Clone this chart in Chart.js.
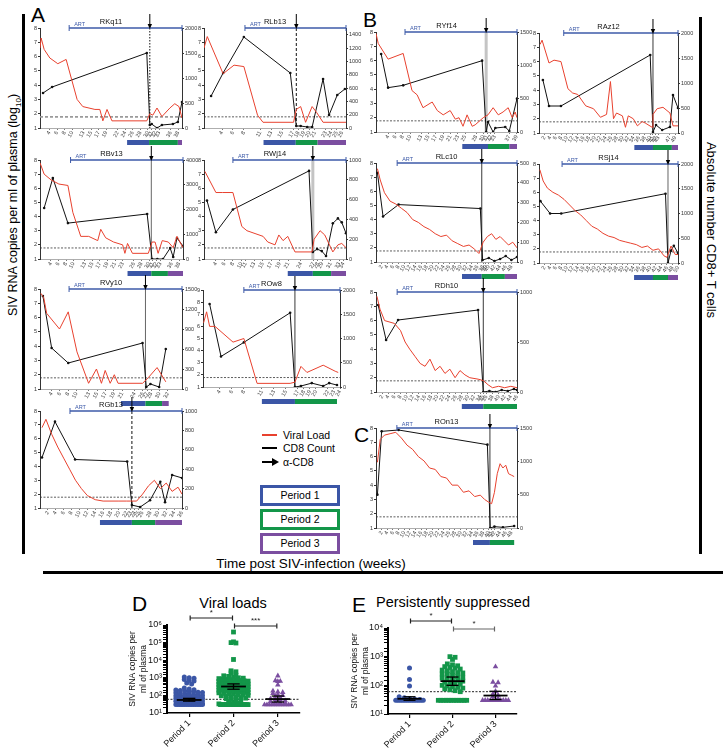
<!DOCTYPE html>
<html>
<head>
<meta charset="utf-8">
<script src="https://cdn.jsdelivr.net/npm/chart.js@4.4.1/dist/chart.umd.min.js"></script>
<style>
  body { margin: 0; background: #fff; }
  #fig { position: relative; width: 723px; height: 749px; overflow: hidden; background: #fff;
         font-family: "Liberation Sans", Arial, sans-serif; color: #000; }
  #fig canvas { position: absolute; }
  .t { position: absolute; white-space: nowrap; line-height: 1; }
  .bar { position: absolute; background: #000; }
  .pbox { position: absolute; left: 260px; width: 74px; height: 15px; text-align: center;
          font-size: 10.5px; line-height: 15px; }
</style>
</head>
<body>
<div id="fig">
  <div class="t" style="left:31px;top:4px;font-size:21px">A</div>
  <div class="t" style="left:363px;top:9px;font-size:21px">B</div>
  <div class="t" style="left:354px;top:424px;font-size:21px">C</div>
  <div class="t" style="left:132px;top:593px;font-size:21px">D</div>
  <div class="t" style="left:352px;top:594px;font-size:21px">E</div>

  <div class="bar" style="left:22px;top:14px;width:3px;height:540px"></div>
  <div class="bar" style="left:699px;top:17px;width:3px;height:537px"></div>
  <div class="bar" style="left:43px;top:571px;width:680px;height:3px"></div>

  <div class="t" style="left:15px;top:205px;font-size:12.5px;transform:translate(-50%,-50%) rotate(-90deg)">SIV RNA copies per ml of plasma (log<sub style="font-size:8px">10</sub>)</div>
  <div class="t" style="left:711px;top:230px;font-size:13px;transform:translate(-50%,-50%) rotate(90deg)">Absolute number CD8+ T cells</div>
  <div class="t" style="left:311px;top:557px;font-size:13.5px;transform:translateX(-50%)">Time post SIV-infection (weeks)</div>

  <div class="t" style="left:233px;top:596px;font-size:14.5px;transform:translateX(-50%)">Viral loads</div>
  <div class="t" style="left:453px;top:595px;font-size:14.5px;transform:translateX(-50%)">Persistently suppressed</div>

  <!-- legend -->
  <div class="bar" style="left:262px;top:434px;width:15px;height:2px;background:#e8412e"></div>
  <div class="t" style="left:283px;top:430px;font-size:10.5px">Viral Load</div>
  <div class="bar" style="left:262px;top:447px;width:15px;height:2px"></div>
  <div class="t" style="left:283px;top:443px;font-size:10.5px">CD8 Count</div>
  <svg style="position:absolute;left:260px;top:456px" width="20" height="12">
    <line x1="2" y1="6" x2="13" y2="6" stroke="#000" stroke-width="2"/>
    <polygon points="12,2 19,6 12,10" fill="#000"/>
  </svg>
  <div class="t" style="left:283px;top:457px;font-size:10.5px">α-CD8</div>
  <div class="pbox" style="top:485px;border:3px solid #3b56a6">Period 1</div>
  <div class="pbox" style="top:509px;border:3px solid #139649">Period 2</div>
  <div class="pbox" style="top:533px;border:3px solid #7b4ea0">Period 3</div>
</div>

<script>
// ---------- data: viral load (log10), CD8 counts, weeks ----------
const LOD = 1.78;

const RKq11_vlWeek = [1.5,1.8,2.6,4.1,6.2,8.4,11.3,12.8,16,17.3,18.1,19.2,20.5,29.7,30.5,31.3,32.4,33.7,35.8,37.1,38.2,39];
const RKq11_vl = [6.6,7.3,6.5,5.9,5.5,5.8,3.0,2.5,2.3,2.3,1.5,2.3,1.5,1.5,2.0,1.9,2.4,1.8,2.4,2.7,2.5,1.7];
const RKq11_cd8Week = [2.3,4.7,29.7,30.5,31,32.4,33.7,36.6,37.9,39];
const RKq11_cd8 = [700,820,1500,60,80,0,60,80,120,520];
const RKq11_ticks = [4,6,8,10,13,15,17,19,22,24,26,28,30,31,32,33,36,38];
const RKq11_periods = [24.5,30.3,37.9,39];

const RLb13_vlWeek = [0.7,1.3,4.2,6.2,8,10.5,11.5,17.1,17.6,18.4,19.3,20.5,21.3,22.5,26.7];
const RLb13_vl = [6.6,7.4,4.8,5.4,5.3,1.9,1.4,1.4,2.3,2.5,1.4,2.5,2.1,1.4,1.4];
const RLb13_cd8Week = [2,4.2,8,16.5,17.6,18.4,19.6,20.5,22.5,23.6,25.1,26.5];
const RLb13_cd8 = [480,825,1365,825,30,30,15,15,735,195,495,585];
const RLb13_ticks = [4,6,8,11,13,15,17,18,19,20,21,23,24,25,26];
const RLb13_periods = [11.6,17.5,21.5,26.7];

const RYf14_vlWeek = [0.7,1.3,4,8.1,10.5,11.9,13.5,16,17.4,19,20.9,22.3,23.3,24.4,25.5,26.9,27.7,29.9,31.2,32.6,34,35.3,36.7,37.8,38.6,39.1];
const RYf14_vl = [7.9,7.2,6.1,6.5,3.9,3.6,2.7,3.1,2.5,2.2,2.5,1.9,2.0,1.4,2.2,1.4,1.5,2.0,2.2,2.7,2.2,2.4,2.7,2.0,2.4,2.0];
const RYf14_cd8Week = [2.1,4,8.1,29.6,30.7,31.2,32.6,33.2,35.9,37,39.1];
const RYf14_cd8 = [1170,665,700,1070,0,150,0,60,75,15,500];
const RYf14_ticks = [4,6,8,10,13,15,17,19,21,23,25,28,30,31,32,33,37,39];
const RYf14_periods = [24.2,31.2,37,39.1];

const RAz12_vlWeek = [0.4,1.1,3.6,5.4,7.9,10.4,12.1,13.9,16.8,19.6,22.1,24.3,25.7,26.8,27.9,30,31.1,32.1,33.9,35.4,37.1,38.2,40.7,41,42.5,44.6,47.1,48.2,50];
const RAz12_vl = [7.2,7.5,5.9,6.1,6.0,4.1,3.8,3.7,2.9,2.7,2.1,2.3,4.6,2.0,2.4,2.2,1.4,2.2,2.0,1.5,1.8,1.7,1.4,2.3,2.7,2.8,2.4,1.5,1.5];
const RAz12_cd8Week = [1.4,3.6,7.9,40,41,42.1,44.3,47.1,48.2,50];
const RAz12_cd8 = [1060,540,540,1560,20,160,60,120,760,500];
const RAz12_ticks = [2,4,6,8,10,12,14,16,18,20,22,24,26,28,30,32,34,36,38,40,41,42,43,47,49];
const RAz12_periods = [34.3,41,47.8,50];

const RBv13_vlWeek = [1.1,2.2,4,6.1,8.5,9.8,11.9,14,16.4,17.2,18.5,20.6,23,23.6,24.3,25.6,29.8,30.8,31.6,32.4,33.5,35.1,36.4,37.4,38.2,39];
const RBv13_vl = [7.8,7.0,6.6,6.3,6.2,4.3,2.6,2.6,2.3,3.1,2.5,2.2,2.0,1.4,2.1,1.4,1.4,2.2,2.2,1.4,2.3,2.2,1.8,2.6,2.2,1.8];
const RBv13_cd8Week = [2.2,4.5,8.5,29.5,30.8,32.2,33.7,35.6,36.4,37.4,39];
const RBv13_cd8 = [2060,3270,1450,1820,0,0,0,440,80,850,520];
const RBv13_ticks = [4,6,8,10,13,15,17,19,21,23,26,28,30,31,32,33,36,38];
const RBv13_periods = [24.3,30.6,35,39];

const RWj14_vlWeek = [1.4,4,5.6,8,10.1,11.3,13.2,15.1,16.2,17.9,18.8,19.8,20.9,22.6,26.6,27.1,28.5,29.6,31.5,32.7,33.6,34.6];
const RWj14_vl = [7.2,5.7,5.7,5.7,3.3,3.0,2.8,2.6,2.2,2.0,2.7,2.3,2.6,1.5,1.5,2.4,3.0,2.7,1.5,2.0,2.1,1.8];
const RWj14_cd8Week = [1.9,4,8,25.9,26.8,27.8,28.9,29.9,31.5,32.7,33.6,34.6];
const RWj14_cd8 = [590,270,500,890,70,100,80,30,360,410,370,260];
const RWj14_ticks = [4,6,8,10,11,13,15,17,19,21,24,27,28,29,31,33,34];
const RWj14_periods = [20.9,26.8,31.1,34.6];

const RLc10_vlWeek = [0.5,1.5,3,5,7,9,11,13,15,17,19,21,23,25,27,29,31,33,35,36.5,38,39.5,41,42.5,44,45.5,47,48.5,50];
const RLc10_vl = [7.6,6.8,5.9,5.3,5.1,4.8,4.5,4.0,3.8,3.5,3.3,3.0,2.8,2.9,2.5,2.3,2.1,2.2,1.9,1.6,2.4,2.8,3.0,2.6,2.8,2.5,2.2,2.4,2.0];
const RLc10_cd8Week = [0.5,2.5,8,37,37.8,40,42,44,46,48,50];
const RLc10_cd8 = [450,230,290,270,10,20,5,15,30,10,25];
const RLc10_ticks = [2,4,6,8,10,12,14,16,18,20,22,24,26,28,30,32,34,36,38,39,40,42,44,46,48];
const RLc10_periods = [30.5,37.5,45.7,50];

const RSj14_vlWeek = [0.3,1.5,3,5,7,9,11,13,15,17,19,21,23,25,27,29,31,33,35,37,39,41,43,45,46,47.5,49,50];
const RSj14_vl = [7.6,6.8,6.3,6.0,5.8,5.5,5.1,4.7,4.4,4.0,3.6,3.4,3.1,2.9,2.8,2.6,2.5,2.4,2.3,2.1,2.2,1.9,2.0,1.5,1.4,2.2,1.6,1.6];
const RSj14_cd8Week = [0.5,4,8,45.5,46.4,47.5,48.5,50];
const RSj14_cd8 = [1250,1000,1000,1400,0,250,350,200];
const RSj14_ticks = [2,4,6,8,10,12,14,16,18,20,22,24,26,28,30,32,34,36,38,40,42,44,46,48,50];
const RSj14_periods = [34.2,41,46.4,50];

const RVy10_vlWeek = [1.4,2.1,2.8,5.9,8,10.1,12.9,14.8,16,16.9,18.1,19.1,20,25.9,27.3,29.4,31.5];
const RVy10_vl = [7.7,7.4,6.3,5.2,6.4,3.6,1.4,2.4,1.4,2.3,1.4,2.0,1.4,1.4,1.8,2.5,1.5];
const RVy10_cd8Week = [1.9,4,8,25.9,26.8,27.8,29.9,31.5];
const RVy10_cd8 = [1395,615,390,690,30,75,30,600];
const RVy10_ticks = [4,6,8,10,13,15,17,19,21,24,26,27,28,30,32];
const RVy10_periods = [20.7,26.6,30.6,32.2];

const ROw8_vlWeek = [1.3,1.8,2.3,3.2,6.2,8,10.2,15.7,16.5,17.5,18.5,21.2,23.2,23.7];
const ROw8_vl = [6.3,7.2,6.0,6.0,4.7,5.0,1.3,1.3,1.4,2.7,2.2,2.8,2.3,2.2];
const ROw8_cd8Week = [2.3,4.2,8,15.7,16.5,17.5,19.3,21.2,22.2,23.5];
const ROw8_cd8 = [1710,630,920,1530,0,20,80,20,80,40];
const ROw8_ticks = [4,6,8,11,13,15,17,18,19,20,22,23,24];
const ROw8_periods = [11,16.5,23.5,23.5];

const RDh10_vlWeek = [0.3,1.3,2.8,6,8,9.5,11,12.7,14.4,16,17.6,19.3,20.9,22.5,24.1,25.8,27.4,29,30.6,33.3,35,36.6,38,40,42,44,46];
const RDh10_vl = [7.7,6.8,6.0,5.8,5.3,4.5,4.0,3.5,3.0,2.8,3.3,2.5,2.8,2.3,2.6,2.0,2.5,2.2,2.0,1.9,1.8,1.5,1.3,1.4,1.3,1.4,1.3];
const RDh10_cd8Week = [0.7,3.3,7.2,33.3,35,37,39,41,43,45,46];
const RDh10_cd8 = [870,520,720,820,0,10,0,20,10,30,20];
const RDh10_ticks = [2,4,6,8,10,12,14,16,18,20,22,24,26,28,30,32,34,35,36,38,40,42,44,46];
const RDh10_periods = [28,35,46,46];

const RGb13_vlWeek = [0.5,1.5,3,4.5,6,7.5,9,10.5,12,14,16,18,20,22,23,24.5,26,27.5,29,30.5,32,33.5,35,36];
const RGb13_vl = [6.8,7.4,6.3,5.4,4.6,3.8,3.0,2.4,1.9,1.6,1.5,1.5,1.5,1.5,1.5,1.5,2.0,2.6,3.0,2.4,2.8,2.2,2.5,2.0];
const RGb13_cd8Week = [0.5,3.8,8.9,22.1,23.3,25.4,27.9,30.5,31.7,33.5,36];
const RGb13_cd8 = [520,890,500,480,30,10,80,270,60,340,310];
const RGb13_ticks = [2,4,6,8,10,12,14,16,18,20,22,23,24,25,26,28,30,32,34,36];
const RGb13_periods = [15.2,23.3,29.2,36];

const ROn13_vlWeek = [0.5,1.5,3,5,7,9,11,13,15,17,19,21,23,25,27,29,31,33,35,37,38.5,40,41,42,43,44,45,46,47,48,49];
const ROn13_vl = [5.6,7.2,7.5,7.6,7.7,7.3,6.8,6.5,6.0,5.7,5.2,5.1,4.6,4.5,4.0,4.0,3.5,3.6,3.2,3.3,3.0,2.8,2.7,3.5,4.8,5.5,5.2,5.4,4.8,4.7,4.6];
const ROn13_cd8Week = [0.5,2,8,39.5,40.5,42,45,49];
const ROn13_cd8 = [500,1450,1470,1250,0,20,10,30];
const ROn13_ticks = [2,4,6,8,10,12,14,16,18,20,22,24,26,28,30,32,34,36,38,40,41,42,44,46,48];
const ROn13_periods = [34.4,40.4,49,49];

// ---------- data: panels D and E (SIV RNA copies / ml) ----------
const periodNames = ['Period 1', 'Period 2', 'Period 3'];

const D_P1 = [1100,1000,950,800,700,650,500,450,
  260,230,210,200,190,180,170,160,150,145,140,130,120,115,
  110,105,100,95,90,85,80,78,75,72,70,66,62,
  60,58,55,52,50,48,46,44,42,40,38,36,34,
  30,30,30,30,30,30,30,30,30,30,30,30,30,30,30,30];
const D_P2 = [400000,110000,100000,95000,11000,
  2500,2200,1900,1400,1300,1200,1100,1000,950,900,850,800,780,750,700,680,650,620,600,580,550,530,500,
  480,460,440,420,400,390,380,360,350,340,330,320,310,300,290,280,270,260,250,240,230,220,
  210,200,195,190,180,170,165,160,150,145,140,130,125,120,110,105,100,95,90,85,80,75,70,65,60,55,50,45,40,36,33,
  30,30,30,30,30,30,30,30,30,30,30,30,30,30,30,30,30,30];
const D_P3 = [1300,700,650,620,400,180,160,150,130,110,100,90,75,65,60,55,50,46,42,38,35,
  30,30,30,30,30,30,30,30,30,30,30,30];
const D_mean = [55, 320, 62];
const D_semLo = [47, 225, 42];
const D_semHi = [68, 450, 92];

const E_P1 = [400,160,95,40,37,35,33,32,30,30,30,30,30,30,30,30,30,30,30,30,30,30,30,30];
const E_P2 = [1000,950,800,560,520,480,450,420,400,370,340,320,300,280,270,250,240,220,200,190,180,170,160,150,
  140,130,125,120,110,100,95,90,85,80,75,70,65,60,
  30,30,30,30,30,30,30,30,30,30,30,30];
const E_P3 = [450,130,125,95,62,50,45,40,35,30,30,30,30,30,30,30,30,30,30,30];
const E_mean = [34, 140, 44];
const E_semLo = [30, 100, 32];
const E_semHi = [40, 195, 62];

// ---------- drawing ----------
Chart.defaults.font.family = '"Liberation Sans", Arial, sans-serif';
Chart.defaults.color = '#222';

const fig = document.getElementById('fig');
const RED = '#e8412e';
const PCOL = ['#3b56a6', '#139649', '#7b4ea0'];
const ARTCOL = '#3d5aa8';
const VSTYLE = {
  dot:  { c: '#111', w: 1, d: [1.5, 1.5] },
  dash: { c: '#111', w: 1, d: [3, 2] },
  gray: { c: '#c4c4c4', w: 3, d: [] },
  thin: { c: '#222', w: 0.9, d: [] },
  thingray: { c: '#666', w: 1, d: [] }
};

function line(ctx, x1, y1, x2, y2) {
  ctx.beginPath(); ctx.moveTo(x1, y1); ctx.lineTo(x2, y2); ctx.stroke();
}

function addCanvas(left, top, w, h) {
  const c = document.createElement('canvas');
  c.width = w; c.height = h;
  c.style.left = left + 'px'; c.style.top = top + 'px';
  c.style.width = w + 'px'; c.style.height = h + 'px';
  fig.appendChild(c);
  return c;
}

function marks(p) {
  return {
    id: 'marks',
    beforeDatasetsDraw(chart) {
      const { ctx, chartArea: a, scales: { x, y } } = chart;
      ctx.save();
      // limit of detection
      const ly = y.getPixelForValue(LOD);
      ctx.strokeStyle = p.lodGray ? '#9a9a9a' : '#333';
      ctx.lineWidth = p.lodGray ? 1.8 : 0.8;
      ctx.setLineDash(p.lodGray ? [3, 2] : [2, 1.5]);
      line(ctx, a.left, ly, a.right, ly);
      // anti-CD8 time
      const vs = VSTYLE[p.vline];
      const ax = x.getPixelForValue(p.arrow);
      ctx.strokeStyle = vs.c; ctx.lineWidth = vs.w; ctx.setLineDash(vs.d);
      line(ctx, ax, a.top, ax, a.bottom);
      ctx.restore();
    },
    afterDraw(chart) {
      const { ctx, chartArea: a, scales: { x } } = chart;
      ctx.save();
      // ART bar
      const sx = x.getPixelForValue(p.art);
      ctx.strokeStyle = ARTCOL; ctx.lineWidth = 1.3;
      line(ctx, sx, a.top, a.right, a.top);
      ctx.lineWidth = 1;
      line(ctx, sx, a.top - 3, sx, a.top + 3);
      line(ctx, a.right, a.top - 3, a.right, a.top + 3);
      ctx.fillStyle = ARTCOL;
      ctx.font = '5.5px "Liberation Sans", Arial, sans-serif';
      ctx.textAlign = 'left'; ctx.textBaseline = 'bottom';
      ctx.fillText('ART', sx + 5, a.top - 1);
      // animal name
      ctx.fillStyle = '#111';
      ctx.font = '7.5px "Liberation Sans", Arial, sans-serif';
      ctx.textAlign = 'center';
      ctx.fillText(p.name, (a.left + a.right) / 2, a.top - 2);
      // arrow
      const ax = x.getPixelForValue(p.arrow);
      ctx.strokeStyle = '#000'; ctx.lineWidth = 1;
      line(ctx, ax, a.top - 14, ax, a.top - 3);
      ctx.beginPath();
      ctx.moveTo(ax - 2.2, a.top - 4); ctx.lineTo(ax + 2.2, a.top - 4); ctx.lineTo(ax, a.top + 1);
      ctx.closePath(); ctx.fillStyle = '#000'; ctx.fill();
      // period bars
      for (let k = 0; k < 3; k++) {
        const x1 = x.getPixelForValue(p.periods[k]), x2 = x.getPixelForValue(p.periods[k + 1]);
        if (x2 > x1) { ctx.fillStyle = PCOL[k]; ctx.fillRect(x1, a.bottom + 12, x2 - x1, 5); }
      }
      ctx.restore();
    }
  };
}

function smallChart(p) {
  const padL = 14, padR = 24, padT = 20, padB = 20;
  const w = p.R - p.L + padL + padR, h = p.B - p.T + padT + padB;
  const cv = addCanvas(p.L - padL, p.T - padT, w, h);
  const tickFont = { size: 5.5 };
  new Chart(cv, {
    type: 'line',
    data: {
      datasets: [
        { data: p.vlWeek.map((wk, i) => ({ x: wk, y: p.vl[i] })), yAxisID: 'y',
          borderColor: RED, borderWidth: 1, pointRadius: 0 },
        { data: p.cd8Week.map((wk, i) => ({ x: wk, y: p.cd8[i] })), yAxisID: 'y1',
          borderColor: '#111', borderWidth: 1, pointRadius: 1.3, pointBackgroundColor: '#111', pointBorderWidth: 0 }
      ]
    },
    options: {
      responsive: false, animation: false, devicePixelRatio: 1,
      layout: { padding: { top: padT, left: 0, right: 0, bottom: 0 } },
      plugins: { legend: { display: false }, tooltip: { enabled: false } },
      scales: {
        x: {
          type: 'linear', min: p.xMin, max: p.xMax,
          afterBuildTicks: s => { s.ticks = p.ticks.map(v => ({ value: v })); },
          afterFit: s => { s.height = padB; },
          ticks: { font: tickFont, color: '#444', minRotation: 60, maxRotation: 60, autoSkip: false, padding: 0 },
          grid: { drawOnChartArea: false, tickLength: 2, color: '#777' },
          border: { color: '#999', width: 0.8 }
        },
        y: {
          position: 'left', min: 1, max: p.yMax,
          afterFit: s => { s.width = padL; },
          ticks: { stepSize: 1, font: tickFont, color: '#333', padding: 1 },
          grid: { drawOnChartArea: false, tickLength: 2, color: '#333' },
          border: { color: '#333', width: 1 }
        },
        y1: {
          position: 'right', min: 0, max: p.y1Max,
          afterFit: s => { s.width = padR; },
          ticks: { stepSize: p.y1Step, includeBounds: false, font: tickFont, color: '#333', padding: 1,
                   callback: v => String(v) },
          grid: { drawOnChartArea: false, tickLength: 2, color: '#333' },
          border: { color: '#333', width: 1 }
        }
      }
    },
    plugins: [marks(p)]
  });
}

const panels = [
  { name: 'RKq11', L: 40, R: 182, T: 28, B: 128, xMin: 1.5, xMax: 39, yMax: 8, y1Max: 2000, y1Step: 500, art: 9.2, arrow: 30.5, vline: 'dot', lodGray: true,
    vlWeek: RKq11_vlWeek, vl: RKq11_vl, cd8Week: RKq11_cd8Week, cd8: RKq11_cd8, ticks: RKq11_ticks, periods: RKq11_periods },
  { name: 'RLb13', L: 204, R: 346, T: 28, B: 128, xMin: 0.7, xMax: 26.7, yMax: 8, y1Max: 1500, y1Step: 200, art: 8.2, arrow: 17.6, vline: 'dash',
    vlWeek: RLb13_vlWeek, vl: RLb13_vl, cd8Week: RLb13_cd8Week, cd8: RLb13_cd8, ticks: RLb13_ticks, periods: RLb13_periods },
  { name: 'RYf14', L: 376, R: 517, T: 32, B: 132, xMin: 0.7, xMax: 39.1, yMax: 8, y1Max: 1500, y1Step: 500, art: 8.6, arrow: 30.7, vline: 'gray',
    vlWeek: RYf14_vlWeek, vl: RYf14_vl, cd8Week: RYf14_cd8Week, cd8: RYf14_cd8, ticks: RYf14_ticks, periods: RYf14_periods },
  { name: 'RAz12', L: 539, R: 678, T: 33, B: 133, xMin: 0, xMax: 50, yMax: 8, y1Max: 2000, y1Step: 500, art: 8.9, arrow: 41, vline: 'thin',
    vlWeek: RAz12_vlWeek, vl: RAz12_vl, cd8Week: RAz12_cd8Week, cd8: RAz12_cd8, ticks: RAz12_ticks, periods: RAz12_periods },
  { name: 'RBv13', L: 40, R: 183, T: 160, B: 259, xMin: 1.1, xMax: 39, yMax: 8, y1Max: 4000, y1Step: 1000, art: 9.2, arrow: 30.6, vline: 'thingray',
    vlWeek: RBv13_vlWeek, vl: RBv13_vl, cd8Week: RBv13_cd8Week, cd8: RBv13_cd8, ticks: RBv13_ticks, periods: RBv13_periods },
  { name: 'RWj14', L: 204, R: 346, T: 160, B: 259, xMin: 1.2, xMax: 34.6, yMax: 8, y1Max: 1000, y1Step: 200, art: 8, arrow: 26.8, vline: 'gray',
    vlWeek: RWj14_vlWeek, vl: RWj14_vl, cd8Week: RWj14_cd8Week, cd8: RWj14_cd8, ticks: RWj14_ticks, periods: RWj14_periods },
  { name: 'RLc10', L: 376, R: 517, T: 163, B: 262, xMin: 0, xMax: 50, yMax: 8, y1Max: 500, y1Step: 100, art: 7.5, arrow: 37.5, vline: 'thin',
    vlWeek: RLc10_vlWeek, vl: RLc10_vl, cd8Week: RLc10_cd8Week, cd8: RLc10_cd8, ticks: RLc10_ticks, periods: RLc10_periods },
  { name: 'RSj14', L: 539, R: 678, T: 164, B: 263, xMin: 0, xMax: 50, yMax: 8, y1Max: 2000, y1Step: 500, art: 8.3, arrow: 46.4, vline: 'thingray',
    vlWeek: RSj14_vlWeek, vl: RSj14_vl, cd8Week: RSj14_cd8Week, cd8: RSj14_cd8, ticks: RSj14_ticks, periods: RSj14_periods },
  { name: 'RVy10', L: 40, R: 182, T: 289, B: 389, xMin: 1.2, xMax: 35.4, yMax: 8, y1Max: 1500, y1Step: 300, art: 8.2, arrow: 26.6, vline: 'thingray',
    vlWeek: RVy10_vlWeek, vl: RVy10_vl, cd8Week: RVy10_cd8Week, cd8: RVy10_cd8, ticks: RVy10_ticks, periods: RVy10_periods },
  { name: 'ROw8', L: 203, R: 340, T: 290, B: 387, xMin: 1.2, xMax: 24, yMax: 9, y1Max: 2000, y1Step: 500, art: 8, arrow: 16.5, vline: 'thin',
    vlWeek: ROw8_vlWeek, vl: ROw8_vl, cd8Week: ROw8_cd8Week, cd8: ROw8_cd8, ticks: ROw8_ticks, periods: ROw8_periods },
  { name: 'RDh10', L: 376, R: 517, T: 292, B: 392, xMin: 0, xMax: 46, yMax: 8, y1Max: 1000, y1Step: 500, art: 6.9, arrow: 35, vline: 'thin',
    vlWeek: RDh10_vlWeek, vl: RDh10_vl, cd8Week: RDh10_cd8Week, cd8: RDh10_cd8, ticks: RDh10_ticks, periods: RDh10_periods },
  { name: 'RGb13', L: 40, R: 182, T: 411, B: 508, xMin: 0, xMax: 36, yMax: 8, y1Max: 1000, y1Step: 200, art: 7.6, arrow: 23.3, vline: 'dash',
    vlWeek: RGb13_vlWeek, vl: RGb13_vl, cd8Week: RGb13_cd8Week, cd8: RGb13_cd8, ticks: RGb13_ticks, periods: RGb13_periods },
  { name: 'ROn13', L: 376, R: 517, T: 428, B: 528, xMin: 0, xMax: 50, yMax: 8, y1Max: 1500, y1Step: 500, art: 7.4, arrow: 40.4, vline: 'thin',
    vlWeek: ROn13_vlWeek, vl: ROn13_vl, cd8Week: ROn13_cd8Week, cd8: ROn13_cd8, ticks: ROn13_ticks, periods: ROn13_periods }
];
panels.forEach(smallChart);

// ---------- dot plots D and E ----------
const SUP = ['\u2070', '\u00b9', '\u00b2', '\u00b3', '\u2074', '\u2075', '\u2076'];
function supTick(v) {
  const l = Math.log10(v), r = Math.round(l);
  return Math.abs(l - r) < 1e-6 ? '10' + SUP[r] : '';
}

// spread points that share a y band sideways, like a scatter dot plot
function swarm(vals, center, bin, step, half) {
  const bins = {};
  vals.forEach(v => {
    const k = Math.round(Math.log10(v) / bin);
    (bins[k] = bins[k] || []).push(v);
  });
  const pts = [];
  Object.values(bins).forEach(arr => {
    const n = arr.length;
    const s = n > 1 ? Math.min(step, 2 * half / (n - 1)) : 0;
    arr.forEach((v, i) => pts.push({ x: center + (i - (n - 1) / 2) * s, y: v }));
  });
  return pts;
}

function dotMarks(o) {
  return {
    id: 'dotMarks',
    beforeDatasetsDraw(chart) {
      const { ctx, chartArea: a, scales: { y } } = chart;
      ctx.save();
      ctx.strokeStyle = '#222'; ctx.lineWidth = 1; ctx.setLineDash([2, 1.5]);
      const ly = y.getPixelForValue(60);
      line(ctx, a.left, ly, a.right, ly);
      ctx.restore();
    },
    afterDatasetsDraw(chart) {
      const { ctx, scales: { x, y } } = chart;
      const u = x.getPixelForValue(2) - x.getPixelForValue(1);
      ctx.save(); ctx.strokeStyle = '#000';
      o.mean.forEach((m, k) => {
        const cx = x.getPixelForValue(k + 1);
        const my = y.getPixelForValue(m), lo = y.getPixelForValue(o.lo[k]), hi = y.getPixelForValue(o.hi[k]);
        ctx.lineWidth = 1.8; line(ctx, cx - 0.28 * u, my, cx + 0.28 * u, my);
        ctx.lineWidth = 1.3;
        line(ctx, cx, lo, cx, hi);
        line(ctx, cx - 0.14 * u, lo, cx + 0.14 * u, lo);
        line(ctx, cx - 0.14 * u, hi, cx + 0.14 * u, hi);
      });
      ctx.restore();
    },
    afterDraw(chart) {
      const { ctx, chartArea: a, scales: { x } } = chart;
      ctx.save();
      o.brackets.forEach(b => {
        const x1 = x.getPixelForValue(b.from), x2 = x.getPixelForValue(b.to), yy = a.top + b.dy;
        ctx.strokeStyle = b.color; ctx.lineWidth = 1.2;
        line(ctx, x1 + 1, yy, x2 - 1, yy);
        line(ctx, x1 + 1, yy - 2.5, x1 + 1, yy + 2.5);
        line(ctx, x2 - 1, yy - 2.5, x2 - 1, yy + 2.5);
        ctx.fillStyle = '#222'; ctx.font = '8px "Liberation Sans", Arial, sans-serif';
        ctx.textAlign = 'center'; ctx.textBaseline = 'bottom';
        ctx.fillText(b.label, (x1 + x2) / 2, yy - 1);
      });
      ctx.restore();
    }
  };
}

function dotChart(o) {
  const cv = addCanvas(o.left, o.top, o.w, o.h);
  const shapes = ['circle', 'rect', 'triangle'];
  const radii = [2.5, 3.4, 3.2];
  new Chart(cv, {
    type: 'scatter',
    data: {
      datasets: o.groups.map((vals, k) => ({
        data: swarm(vals, k + 1, o.bin, o.step, o.half[k]),
        pointStyle: shapes[k], pointRadius: radii[k],
        backgroundColor: PCOL[k], borderColor: PCOL[k], borderWidth: 0
      }))
    },
    options: {
      responsive: false, animation: false, devicePixelRatio: 1,
      layout: { padding: { top: o.padT, right: o.padR, left: 0, bottom: 0 } },
      plugins: { legend: { display: false }, tooltip: { enabled: false } },
      scales: {
        x: {
          type: 'linear', min: 0.5, max: 3.5,
          afterBuildTicks: s => { s.ticks = [1, 2, 3].map(v => ({ value: v })); },
          afterFit: s => { s.height = o.xH; },
          ticks: { callback: v => periodNames[v - 1], font: { size: 9 }, color: '#111',
                   minRotation: 45, maxRotation: 45, autoSkip: false, padding: 1 },
          grid: { drawOnChartArea: false, tickLength: 4, color: '#000', lineWidth: 1.2 },
          border: { color: '#000', width: 1.5 }
        },
        y: {
          type: 'logarithmic', min: 10, max: o.yMax,
          afterFit: s => { s.width = o.yW; },
          ticks: { callback: supTick, font: { size: 9 }, color: '#111', autoSkip: false, padding: 1 },
          grid: { drawOnChartArea: false, tickLength: 4, color: '#000', lineWidth: 1 },
          border: { color: '#000', width: 2 },
          title: { display: true, text: ['SIV RNA copies per', 'ml of plasma'], font: { size: 8.5 },
                   color: '#111', padding: 0 }
        }
      }
    },
    plugins: [dotMarks(o)]
  });
}

dotChart({
  left: 128, top: 596, w: 177, h: 153, padT: 29, padR: 5, yW: 39, xH: 36, yMax: 1e6,
  groups: [D_P1, D_P2, D_P3], mean: D_mean, lo: D_semLo, hi: D_semHi,
  bin: 0.16, step: 0.11, half: [0.3, 0.33, 0.3],
  brackets: [
    { from: 1, to: 2, dy: -7, label: '*', color: '#222' },
    { from: 2, to: 3, dy: 1, label: '***', color: '#222' }
  ]
});

dotChart({
  left: 350, top: 596, w: 172, h: 153, padT: 32, padR: 5, yW: 38, xH: 35, yMax: 1e4,
  groups: [E_P1, E_P2, E_P3], mean: E_mean, lo: E_semLo, hi: E_semHi,
  bin: 0.13, step: 0.12, half: [0.32, 0.33, 0.3],
  brackets: [
    { from: 1, to: 2, dy: -7, label: '*', color: '#222' },
    { from: 2, to: 3, dy: 1, label: '*', color: '#666' }
  ]
});
</script>
</body>
</html>
